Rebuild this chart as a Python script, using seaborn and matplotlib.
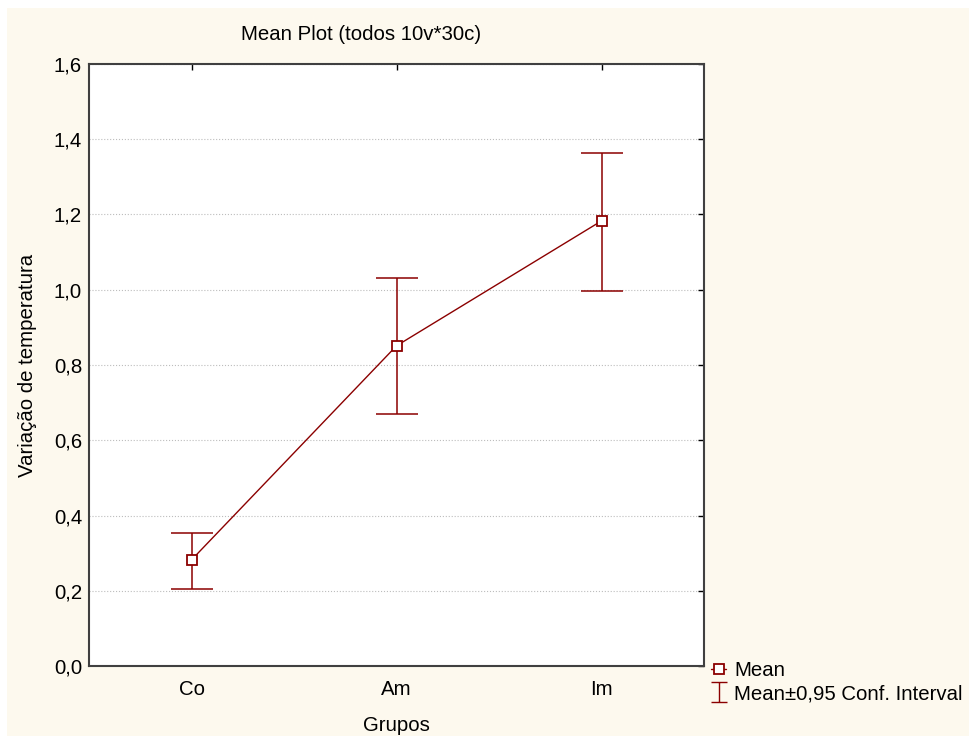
import numpy as np
import pandas as pd
import seaborn as sns
import matplotlib.pyplot as plt
from matplotlib.lines import Line2D
from matplotlib.path import Path
from matplotlib.patches import Rectangle
from matplotlib.ticker import FuncFormatter


grupos = ["Co", "Am", "Im"]
media = [0.282, 0.851, 1.183]
ic_inf = [0.205, 0.670, 0.997]
ic_sup = [0.354, 1.031, 1.364]

df = pd.DataFrame(
    {
        "pos": np.arange(len(grupos)),
        "Grupos": grupos,
        "media": media,
        "inf": ic_inf,
        "sup": ic_sup,
    }
)

RED = "#8B0000"
CREAM = "#FDF9EE"
SPINE = "#404040"

sns.set_theme(style="white")
plt.rcParams["font.family"] = ["Liberation Sans", "DejaVu Sans"]
plt.rcParams["font.size"] = 14.7
plt.rcParams["text.color"] = "black"
plt.rcParams["axes.labelcolor"] = "black"
plt.rcParams["xtick.color"] = "black"
plt.rcParams["ytick.color"] = "black"

fig = plt.figure(figsize=(9.69, 7.36), dpi=100, facecolor="white")
fig.patches.append(
    Rectangle((7 / 969, 0), 1, 1 - 8 / 736, transform=fig.transFigure,
              facecolor=CREAM, edgecolor="none", zorder=-10)
)
ax = fig.add_axes([89 / 969, 1 - 666 / 736, 615 / 969, 602 / 736])
ax.set_facecolor("white")

ax.errorbar(
    df["pos"], df["media"],
    yerr=[df["media"] - df["inf"], df["sup"] - df["media"]],
    fmt="none", ecolor=RED, elinewidth=1.1, capsize=15, capthick=1.1, zorder=3,
)
sns.lineplot(
    data=df, x="pos", y="media", ax=ax, color=RED, linewidth=1.0,
    marker="s", markersize=7.5, markerfacecolor="white",
    markeredgecolor=RED, markeredgewidth=1.3, zorder=4,
)

ax.set_xlim(-0.5, 2.5)
ax.set_ylim(0, 1.6)
ax.set_xticks(df["pos"])
ax.set_xticklabels(grupos)
ax.set_yticks(np.arange(0, 1.61, 0.2))
ax.yaxis.set_major_formatter(FuncFormatter(lambda v, p: f"{v:.1f}".replace(".", ",")))

ax.grid(axis="y", linestyle=":", color="#bdbdbd", linewidth=0.8)
ax.grid(axis="x", visible=False)
for s in ax.spines.values():
    s.set_color(SPINE)
    s.set_linewidth(1.5)

ax.tick_params(axis="both", direction="in", length=4.3, width=1.0, color="black",
               top=True, right=True, labelsize=14.7, labelcolor="black")
ax.tick_params(axis="x", pad=10)
ax.tick_params(axis="y", pad=5)

ax.set_xlabel("Grupos", fontsize=14.7, labelpad=12, color="black")
ax.set_ylabel("Variação de temperatura", fontsize=14.7, labelpad=12, color="black")

fig.text(361 / 969, 1 - 34 / 736, "Mean Plot (todos 10v*30c)", ha="center",
         va="center", fontsize=14.7, color="black")

ibeam = Path(
    [(-0.4, -0.5), (0.4, -0.5), (0, -0.5), (0, 0.5), (-0.4, 0.5), (0.4, 0.5)],
    [Path.MOVETO, Path.LINETO, Path.MOVETO, Path.LINETO, Path.MOVETO, Path.LINETO],
)
handles = [
    Line2D([], [], color=RED, linewidth=1.0, marker="s", markersize=6.5,
           markerfacecolor="white", markeredgecolor=RED, markeredgewidth=1.3),
    Line2D([], [], linestyle="none", marker=ibeam, markersize=14,
           markerfacecolor="none", markeredgecolor=RED, markeredgewidth=1.0),
]
fig.legend(
    handles, ["Mean", "Mean±0,95 Conf. Interval"],
    loc="upper left", bbox_to_anchor=(711 / 969, 1 - 661 / 736),
    frameon=False, borderpad=0, borderaxespad=0, handlelength=0.75,
    handletextpad=0.4, labelspacing=0.22, fontsize=14.7, labelcolor="black",
)

fig.savefig("out.png", dpi=100)
